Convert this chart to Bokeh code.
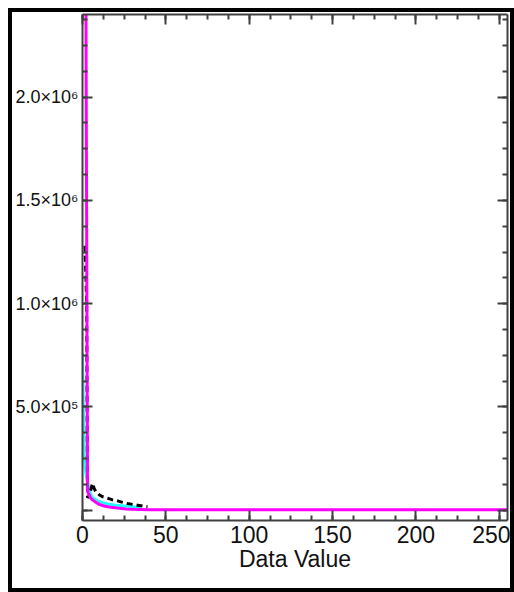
from bokeh.plotting import figure
from bokeh.models import LinearAxis, SingleIntervalTicker, Range1d, CustomJSTickFormatter
from bokeh.embed import file_html
from bokeh.resources import INLINE

# ---- data ----
magenta_x = [0, 1, 2, 3, 4, 5, 6, 7, 8, 10, 13, 16, 21, 26, 30, 40, 60, 100, 150, 200, 255]
magenta_y = [2.9e6, 2.8e6, 2.6e6, 9.3e4, 7.2e4, 5.8e4, 5.0e4, 4.4e4, 3.8e4, 2.8e4, 2.0e4,
             1.5e4, 1.0e4, 6e3, 4e3, 2e3, 2e3, 2e3, 2e3, 2e3, 2e3]

cyan_x = [0, 1, 2, 3, 4, 5, 6, 8, 10, 12, 15, 20, 25, 30, 35]
cyan_y = [7.6e5, 2.6e5, 1.8e5, 1.4e5, 1.0e5, 7.5e4, 6.2e4, 5.0e4, 4.2e4, 3.6e4, 3.0e4,
          2.4e4, 2.0e4, 1.6e4, 1.3e4]

black_x = [1.5, 2.5, 3, 4, 5, 6, 7, 8, 10, 12, 15, 18, 21, 24, 27, 30, 33, 36, 39]
black_y = [1.28e6, 1.0e6, 6e4, 7e4, 1.0e5, 1.3e5, 1.05e5, 9e4, 7.5e4, 6.5e4, 5.8e4, 5.0e4,
           4.5e4, 3.8e4, 3.2e4, 2.8e4, 2.4e4, 2.0e4, 1.7e4]

y_tick_labels = {0: "", 500000: "5.0×10⁵", 1000000: "1.0×10⁶",
                 1500000: "1.5×10⁶", 2000000: "2.0×10⁶"}
x_label = "Data Value"

FONT = "Liberation Sans"
AX = "#404040"

p = figure(width=506, height=584, x_range=Range1d(0, 255), y_range=Range1d(-5e4, 2.4e6),
           output_backend="svg", toolbar_location=None,
           min_border_left=68, min_border_right=11, min_border_top=2, min_border_bottom=76)
p.styles = {"border": "4px solid black", "margin-left": "8px", "margin-top": "8px"}
p.grid.visible = False
p.outline_line_color = None
p.background_fill_color = "white"
p.border_fill_color = "white"

p.line(cyan_x, cyan_y, line_color="#20ffff", line_width=3)
p.line(black_x, black_y, line_color="black", line_width=3, line_dash="6 4")
p.line(magenta_x, magenta_y, line_color="#ff00ff", line_width=3)

p.xaxis.ticker = SingleIntervalTicker(interval=50, num_minor_ticks=4)
p.yaxis.ticker = SingleIntervalTicker(interval=500000, num_minor_ticks=4)
p.yaxis.major_label_overrides = y_tick_labels
p.xaxis.axis_label = x_label


def style(ax, size):
    ax.axis_line_color = AX
    ax.axis_line_width = 2
    ax.major_tick_line_color = AX
    ax.minor_tick_line_color = AX
    ax.major_tick_line_width = 2
    ax.minor_tick_line_width = 2
    ax.major_tick_in = 10
    ax.major_tick_out = 0
    ax.minor_tick_in = 5
    ax.minor_tick_out = 0
    ax.major_label_text_font = FONT
    ax.major_label_text_font_size = size
    ax.major_label_text_color = "#111111"
    ax.major_label_standoff = 5
    ax.axis_label_text_font = FONT
    ax.axis_label_text_font_size = "23px"
    ax.axis_label_text_font_style = "normal"
    ax.axis_label_text_color = "#111111"
    ax.axis_label_standoff = 0


style(p.xaxis[0], "23px")
style(p.yaxis[0], "18px")
p.yaxis.major_label_standoff = 4

blank = CustomJSTickFormatter(code="return ''")
top = LinearAxis(ticker=SingleIntervalTicker(interval=50, num_minor_ticks=4), formatter=blank)
right = LinearAxis(ticker=SingleIntervalTicker(interval=500000, num_minor_ticks=4), formatter=blank)
style(top, "12px")
style(right, "12px")
top.major_label_standoff = 0
right.major_label_standoff = 0
p.add_layout(top, "above")
p.add_layout(right, "right")

open("out.html", "w").write(file_html(p, INLINE))
